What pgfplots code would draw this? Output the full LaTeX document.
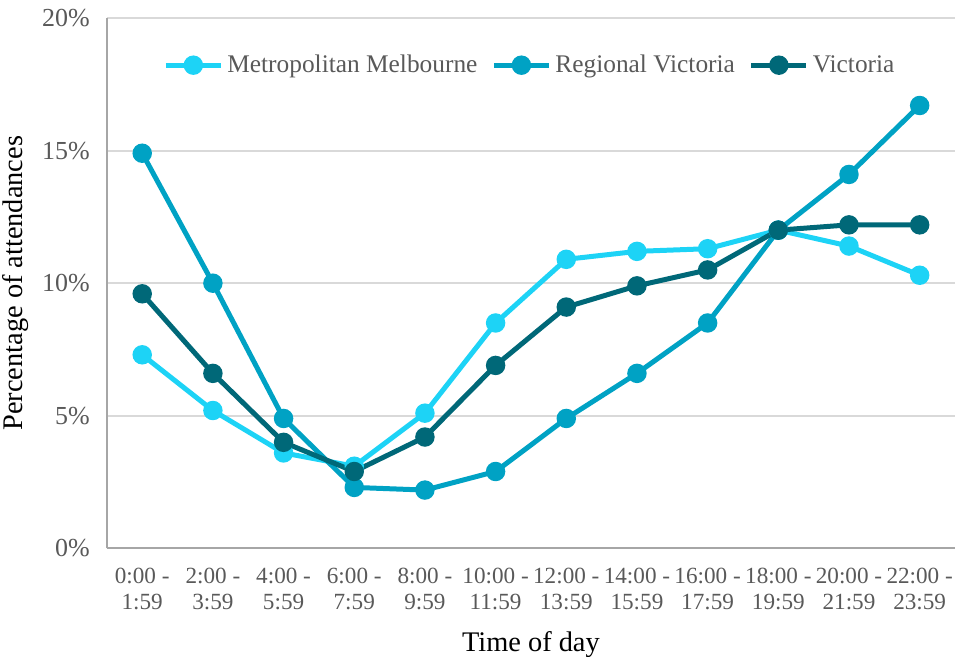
\documentclass[border=0pt]{standalone}
\usepackage{pgfplots}
\pgfplotsset{compat=1.18}
\usepackage{fontspec}
\setmainfont{Liberation Serif}

\definecolor{metro}{HTML}{1DD3F6}
\definecolor{regional}{HTML}{00A2C4}
\definecolor{vic}{HTML}{006878}
\definecolor{tickgrey}{HTML}{595959}
\definecolor{axisgrey}{HTML}{A6A6A6}
\definecolor{gridgrey}{HTML}{D9D9D9}

\begin{document}
\begin{tikzpicture}
\begin{axis}[
    scale only axis,
    width=424.5pt, height=265.5pt,
    xmin=-0.5, xmax=11.5,
    ymin=0, ymax=20,
    axis lines*=left,
    axis line style={axisgrey, line width=1pt},
    ymajorgrids,
    grid style={gridgrey, line width=1pt},
    major tick length=0pt,
    xtick={0,1,2,3,4,5,6,7,8,9,10,11},
    xticklabels={{0:00 -\\1:59},{2:00 -\\3:59},{4:00 -\\5:59},{6:00 -\\7:59},{8:00 -\\9:59},{10:00 -\\11:59},{12:00 -\\13:59},{14:00 -\\15:59},{16:00 -\\17:59},{18:00 -\\19:59},{20:00 -\\21:59},{22:00 -\\23:59}},
    xticklabel style={align=center, text=tickgrey, font=\fontsize{11.6}{12.8}\selectfont, yshift=-6.5pt},
    ytick={0,5,10,15,20},
    yticklabels={0\%,5\%,10\%,15\%,20\%},
    yticklabel style={text=tickgrey, font=\fontsize{13}{15}\selectfont, xshift=-5pt},
    xlabel={Time of day},
    ylabel={Percentage of attendances},
    label style={font=\fontsize{14.2}{16}\selectfont},
    xlabel style={yshift=-4pt},
    ylabel style={yshift=0pt},
    every axis plot/.append style={line width=2.5pt, mark=*, mark size=3.6pt},
    legend style={at={(0.5,0.911)}, anchor=center, draw=none, fill=none,
        legend columns=3, font=\fontsize{12.7}{14}\selectfont, text=tickgrey,
        /tikz/every even column/.append style={column sep=5pt},
        inner sep=0pt},
    legend cell align=left,
    legend image code/.code={\draw[mark repeat=2, mark phase=2] plot coordinates {(0pt,0pt) (13.75pt,0pt) (27.5pt,0pt)};},
]
\addplot[color=metro, mark options={fill=metro}] coordinates {
(0,7.3) (1,5.2) (2,3.6) (3,3.1) (4,5.1) (5,8.5) (6,10.9) (7,11.2) (8,11.3) (9,12.0) (10,11.4) (11,10.3)
};
\addlegendentry{Metropolitan Melbourne}
\addplot[color=regional, mark options={fill=regional}] coordinates {
(0,14.9) (1,10.0) (2,4.9) (3,2.3) (4,2.2) (5,2.9) (6,4.9) (7,6.6) (8,8.5) (9,12.0) (10,14.1) (11,16.7)
};
\addlegendentry{Regional Victoria}
\addplot[color=vic, mark options={fill=vic}] coordinates {
(0,9.6) (1,6.6) (2,4.0) (3,2.9) (4,4.2) (5,6.9) (6,9.1) (7,9.9) (8,10.5) (9,12.0) (10,12.2) (11,12.2)
};
\addlegendentry{Victoria}
\end{axis}
\pgfresetboundingbox
\path[use as bounding box] ([xshift=-53.5pt,yshift=-54pt]current axis.south west) rectangle ([xshift=1.5pt,yshift=9pt]current axis.north east);
\end{tikzpicture}
\end{document}
